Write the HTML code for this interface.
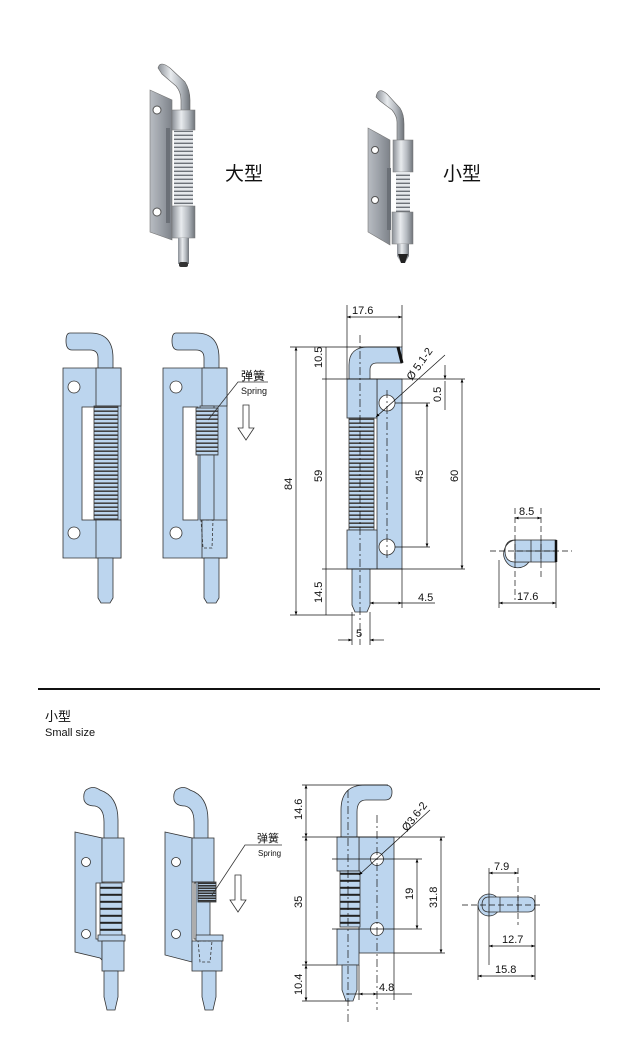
<!DOCTYPE html>
<html><head><meta charset="utf-8"><style>
html,body{margin:0;padding:0;background:#fff;}
svg{display:block;}
text{font-family:"Liberation Sans","Noto Sans CJK SC",sans-serif;fill:#111;}
</style></head><body>
<svg width="640" height="1054" viewBox="0 0 640 1054" xmlns="http://www.w3.org/2000/svg">
<defs>
<linearGradient id="m" x1="0" x2="1"><stop offset="0" stop-color="#8a8f96"/><stop offset=".4" stop-color="#e8ebee"/><stop offset=".7" stop-color="#b5bac0"/><stop offset="1" stop-color="#6f747a"/></linearGradient>
<linearGradient id="pl" x1="0" x2="1"><stop offset="0" stop-color="#b8bcc2"/><stop offset=".5" stop-color="#9ca1a8"/><stop offset="1" stop-color="#7d8289"/></linearGradient>
<pattern id="sp" width="10" height="4" patternUnits="userSpaceOnUse"><rect width="10" height="4" fill="#e6e9ec"/><rect y="2.6" width="10" height="1.4" fill="#6d7278"/></pattern>
<pattern id="bs" width="10" height="4" patternUnits="userSpaceOnUse"><rect width="10" height="4" fill="#bcd5ee"/><rect y="2.4" width="10" height="1.6" fill="#444"/></pattern>
<pattern id="bs2" width="10" height="7" patternUnits="userSpaceOnUse"><rect width="10" height="7" fill="#bcd5ee"/><rect y="4.8" width="10" height="2" fill="#222"/></pattern>
<pattern id="bs3" width="10" height="2.5" patternUnits="userSpaceOnUse"><rect width="10" height="2.5" fill="#333"/><rect y="1.6" width="10" height=".9" fill="#bcd5ee"/></pattern>
<marker id="a" viewBox="0 0 10 10" refX="10" refY="5" markerWidth="7" markerHeight="5" orient="auto-start-reverse"><path d="M0,1 L10,5 L0,9z" fill="#000"/></marker>
</defs>

<!-- ===== Top photos ===== -->
<g>
<path d="M150,90 L172,100 L172,240 L150,232z" fill="url(#pl)" stroke="#777" stroke-width=".6"/>
<rect x="166" y="128" width="4" height="95" fill="#6b7077"/>
<circle cx="157" cy="110" r="4" fill="#fff" stroke="#555"/><circle cx="157" cy="212" r="4" fill="#fff" stroke="#555"/>
<path d="M158,68 Q160,60 170,68 L185,82 Q190,90 190,100 L190,115 L181,115 L181,100 Q181,92 176,86 L162,74z" fill="url(#m)" stroke="#666" stroke-width=".6"/>
<rect x="172" y="110" width="23" height="20" fill="url(#m)" stroke="#777" stroke-width=".5"/>
<rect x="174" y="130" width="19" height="76" fill="url(#sp)"/>
<rect x="172" y="206" width="23" height="32" fill="url(#m)" stroke="#777" stroke-width=".5"/>
<rect x="178" y="238" width="11" height="26" fill="url(#m)"/>
<rect x="179" y="262" width="9" height="5" rx="2" fill="#333"/>
<text x="225" y="180" font-size="19">大型</text>
</g>
<g>
<path d="M368,128 L390,140 L390,245 L368,232z" fill="url(#pl)" stroke="#777" stroke-width=".6"/>
<rect x="387" y="168" width="4" height="62" fill="#6b7077"/>
<circle cx="375" cy="150" r="3.5" fill="#fff" stroke="#555"/><circle cx="375" cy="200" r="3.5" fill="#fff" stroke="#555"/>
<path d="M376,97 Q378,86 387,94 L400,108 Q404,114 404,124 L404,144 L397,144 L397,122 Q397,116 392,110 L380,101z" fill="url(#m)" stroke="#666" stroke-width=".6"/>
<rect x="393" y="140" width="20" height="32" fill="url(#m)" stroke="#777" stroke-width=".5"/>
<rect x="396" y="172" width="14" height="40" fill="url(#sp)"/>
<rect x="392" y="212" width="21" height="32" fill="url(#m)" stroke="#777" stroke-width=".5"/>
<path d="M397,244 L409,244 L409,256 L405,263 L401,263 L397,256z" fill="url(#m)"/>
<path d="M398,254 L408,254 L405,263 L401,263z" fill="#222"/>
<text x="443" y="180" font-size="19">小型</text>
</g>

<!-- ===== Large line drawings ===== -->
<g stroke="#333" stroke-width=".8" fill="#bcd5ee">
<!-- hinge 1 -->
<path d="M70,333 L90,333 Q113,333 113,358 L113,370 L98,370 L98,358 Q98,350 90,350 L72,350 Q66,350 66,341 Q66,333 70,333z"/>
<path d="M63,368 L121,368 L121,558 L63,558z"/>
<rect x="82" y="407" width="15" height="113" fill="#fff"/>
<rect x="96" y="368" width="25" height="38"/>
<rect x="94" y="406" width="24" height="114" fill="url(#bs)"/>
<rect x="96" y="520" width="25" height="38"/>
<path d="M98,558 L113,558 L113,598 L110,603 L101,603 L98,598z"/>
<circle cx="74" cy="387" r="6" fill="#fff"/><circle cx="74" cy="533" r="6" fill="#fff"/>
<!-- hinge 2 -->
<path d="M176,333 L196,333 Q219,333 219,358 L219,370 L204,370 L204,358 Q204,350 196,350 L178,350 Q172,350 172,341 Q172,333 176,333z"/>
<path d="M163,368 L227,368 L227,558 L163,558z"/>
<rect x="183" y="407" width="15" height="113" fill="#fff"/>
<rect x="202" y="368" width="25" height="38"/>
<rect x="200" y="406" width="14" height="114"/>
<rect x="196" y="408" width="22" height="47" fill="url(#bs)"/>
<rect x="202" y="520" width="25" height="38"/>
<path d="M201,520 L213,520 L212,548 L203,548z" fill="none" stroke-dasharray="3,2"/>
<path d="M204,558 L219,558 L219,598 L216,603 L207,603 L204,598z"/>
<circle cx="176" cy="387" r="6" fill="#fff"/><circle cx="176" cy="533" r="6" fill="#fff"/>
<path d="M243,405 L249,405 L249,428 L254,428 L246,440 L238,428 L243,428z" fill="#fff"/>
<path d="M208,420 L238,382 L268,382" fill="none"/>
</g>
<text x="241" y="380" font-size="12">弹簧</text>
<text x="241" y="394" font-size="9">Spring</text>

<!-- ===== Large dimension drawing ===== -->
<g stroke="#333" stroke-width=".8" fill="#bcd5ee">
<path d="M349,379 L349,365 Q349,347 368,347 L402,347 L402,363 L377,363 Q370,363 370,370 L370,379z"/>
<rect x="377" y="379" width="25" height="190"/>
<rect x="347" y="379" width="30" height="39"/>
<rect x="349" y="418" width="25" height="112" fill="url(#bs)"/>
<rect x="347" y="530" width="30" height="39"/>
<path d="M352,569 L370,569 L370,605 L367,612 L355,612 L352,605z"/>
<circle cx="387" cy="403" r="8" fill="#fff"/><circle cx="387" cy="547" r="8" fill="#fff"/>
<line x1="398" y1="347" x2="402" y2="363" stroke-width="3" stroke="#111"/>
</g>
<g stroke="#111" stroke-width=".7" fill="none">
<line x1="360" y1="335" x2="360" y2="645" stroke-dasharray="8,3,2,3"/>
<line x1="387" y1="390" x2="387" y2="560" stroke-dasharray="8,3,2,3"/>
<line x1="347" y1="305" x2="347" y2="379"/><line x1="402" y1="305" x2="402" y2="347"/>
<line x1="347" y1="317" x2="402" y2="317" marker-start="url(#a)" marker-end="url(#a)"/>
<line x1="290" y1="347" x2="400" y2="347"/><line x1="290" y1="615" x2="355" y2="615"/>
<line x1="296" y1="347" x2="296" y2="615" marker-start="url(#a)" marker-end="url(#a)"/>
<line x1="322" y1="379" x2="465" y2="379"/><line x1="322" y1="569" x2="465" y2="569"/>
<line x1="326" y1="347" x2="326" y2="615"/>
<line x1="395" y1="403" x2="430" y2="403"/><line x1="395" y1="547" x2="430" y2="547"/>
<line x1="427" y1="403" x2="427" y2="547" marker-start="url(#a)" marker-end="url(#a)"/>
<line x1="462" y1="379" x2="462" y2="569" marker-start="url(#a)" marker-end="url(#a)"/>
<line x1="445" y1="365" x2="445" y2="379" marker-end="url(#a)"/><line x1="445" y1="410" x2="445" y2="381"/>
<line x1="370" y1="612" x2="370" y2="645"/><line x1="352" y1="612" x2="352" y2="645"/>
<line x1="338" y1="640" x2="352" y2="640" marker-end="url(#a)"/><line x1="384" y1="640" x2="370" y2="640" marker-end="url(#a)"/>
<line x1="370" y1="603" x2="402" y2="603" marker-start="url(#a)" marker-end="url(#a)"/>
<line x1="402" y1="569" x2="402" y2="608"/><line x1="402" y1="603" x2="435" y2="603"/>
<line x1="376" y1="417" x2="445" y2="355" marker-start="url(#a)"/>
</g>
<g font-size="11">
<text x="352" y="314">17.6</text>
<text transform="translate(292,490) rotate(-90)">84</text>
<text transform="translate(322,368) rotate(-90)">10.5</text>
<text transform="translate(322,482) rotate(-90)">59</text>
<text transform="translate(322,603) rotate(-90)">14.5</text>
<text transform="translate(423,482) rotate(-90)">45</text>
<text transform="translate(458,482) rotate(-90)">60</text>
<text transform="translate(441,402) rotate(-90)">0.5</text>
<text x="418" y="601">4.5</text>
<text x="356" y="637">5</text>
<text transform="translate(412,381) rotate(-55)">Ø 5.1-2</text>
</g>
<!-- side view large -->
<g stroke="#333" stroke-width=".8" fill="#bcd5ee">
<path d="M515,540 A14,14 0 1 0 529,562 L515,562 Q505,562 505,551 Q505,540 515,540z"/>
<rect x="515" y="540" width="41" height="22"/>
<line x1="531" y1="540" x2="531" y2="562"/><line x1="541" y1="540" x2="541" y2="562"/>
<line x1="515" y1="551" x2="556" y2="551"/>
<line x1="556" y1="540" x2="556" y2="562" stroke-width="2.5" stroke="#111"/>
</g>
<g stroke="#111" stroke-width=".7" fill="none">
<line x1="490" y1="551" x2="572" y2="551" stroke-dasharray="6,3"/>
<line x1="515" y1="508" x2="515" y2="600" stroke-dasharray="6,3"/>
<line x1="541" y1="508" x2="541" y2="580" stroke-dasharray="6,3"/>
<line x1="515" y1="518" x2="541" y2="518" marker-start="url(#a)" marker-end="url(#a)"/>
<line x1="499" y1="560" x2="499" y2="608"/><line x1="556" y1="562" x2="556" y2="608"/>
<line x1="499" y1="603" x2="556" y2="603" marker-start="url(#a)" marker-end="url(#a)"/>
</g>
<text x="519" y="515" font-size="11">8.5</text>
<text x="517" y="600" font-size="11">17.6</text>

<!-- divider -->
<rect x="38" y="688" width="562" height="2" fill="#111"/>
<text x="45" y="721" font-size="13">小型</text>
<text x="45" y="736" font-size="11">Small size</text>

<!-- ===== Small line drawings ===== -->
<g stroke="#333" stroke-width=".8" fill="#bcd5ee">
<path d="M86,790 Q93,785 100,790 Q118,796 118,820 L118,840 L104,840 L104,822 Q104,808 95,806 Q86,806 84,800 Q83,793 86,790z"/>
<path d="M75,832 L102,838 L102,960 L100,958 L75,952z"/>
<circle cx="86" cy="862" r="4.5" fill="#fff"/><circle cx="86" cy="934" r="4.5" fill="#fff"/>
<rect x="96" y="883" width="8" height="56" fill="#fff"/>
<rect x="102" y="838" width="22" height="44"/>
<rect x="100" y="883" width="22" height="55" fill="url(#bs2)"/>
<rect x="98" y="935" width="27" height="6"/>
<rect x="102" y="941" width="22" height="30"/>
<path d="M104,971 L118,971 L118,997 L115,1010 L107,1010 L104,997z"/>
<!-- hinge 2 -->
<path d="M176,790 Q183,785 190,790 Q208,796 208,820 L208,840 L194,840 L194,822 Q194,808 185,806 Q176,806 174,800 Q173,793 176,790z"/>
<path d="M165,832 L192,838 L192,962 L165,955z"/>
<circle cx="176" cy="862" r="4.5" fill="#fff"/><circle cx="176" cy="934" r="4.5" fill="#fff"/>
<rect x="194" y="883" width="6" height="56" fill="#fff"/>
<rect x="192" y="838" width="22" height="44"/>
<rect x="196" y="882" width="14" height="56"/>
<rect x="198" y="882" width="18" height="20" fill="url(#bs3)"/>
<rect x="196" y="935" width="27" height="6"/>
<rect x="192" y="941" width="30" height="30"/>
<path d="M198,941 L212,941 L210,962 L200,962z" fill="none" stroke-dasharray="3,2"/>
<path d="M202,971 L216,971 L216,997 L213,1010 L205,1010 L202,997z"/>
<path d="M235,875 L241,875 L241,900 L246,900 L238,912 L230,900 L235,900z" fill="#fff"/>
<path d="M212,895 L245,845 L282,845" fill="none"/>
</g>
<text x="257" y="842" font-size="11">弹簧</text>
<text x="258" y="856" font-size="8">Spring</text>

<!-- ===== Small dimension drawing ===== -->
<g stroke="#333" stroke-width=".8" fill="#bcd5ee">
<path d="M341,837 L341,810 Q341,785 365,785 L385,785 Q392,785 392,792 Q392,800 385,800 L366,800 Q357,800 357,812 L357,837z"/>
<rect x="359" y="837" width="35" height="116"/>
<rect x="337" y="837" width="22" height="34"/>
<rect x="340" y="871" width="20" height="56" fill="url(#bs2)"/>
<rect x="337" y="929" width="22" height="36"/>
<path d="M342,965 L357,965 L357,990 L353,1001 L346,1001 L342,990z"/>
<circle cx="377" cy="859" r="6.5" fill="#fff"/><circle cx="377" cy="929" r="6.5" fill="#fff"/>
</g>
<g stroke="#111" stroke-width=".7" fill="none">
<line x1="348" y1="790" x2="348" y2="1025" stroke-dasharray="8,3,2,3"/>
<line x1="377" y1="815" x2="377" y2="1010" stroke-dasharray="8,3,2,3"/>
<line x1="302" y1="785" x2="388" y2="785"/><line x1="302" y1="837" x2="445" y2="837"/>
<line x1="302" y1="965" x2="337" y2="965"/><line x1="302" y1="1001" x2="350" y2="1001"/>
<line x1="306" y1="785" x2="306" y2="837" marker-start="url(#a)" marker-end="url(#a)"/>
<line x1="306" y1="837" x2="306" y2="965" marker-start="url(#a)" marker-end="url(#a)"/>
<line x1="306" y1="965" x2="306" y2="1001" marker-start="url(#a)" marker-end="url(#a)"/>
<line x1="332" y1="859" x2="422" y2="859"/><line x1="332" y1="929" x2="422" y2="929"/>
<line x1="417" y1="859" x2="417" y2="929" marker-start="url(#a)" marker-end="url(#a)"/>
<line x1="394" y1="953" x2="445" y2="953"/>
<line x1="441" y1="837" x2="441" y2="953" marker-start="url(#a)" marker-end="url(#a)"/>
<line x1="359" y1="965" x2="359" y2="1000"/><line x1="394" y1="953" x2="394" y2="1000"/>
<line x1="359" y1="994" x2="377" y2="994" marker-start="url(#a)" marker-end="url(#a)"/>
<line x1="377" y1="994" x2="412" y2="994"/><line x1="346" y1="994" x2="359" y2="994"/>
<line x1="359" y1="875" x2="430" y2="810" marker-start="url(#a)"/>
</g>
<g font-size="11">
<text transform="translate(302,820) rotate(-90)">14.6</text>
<text transform="translate(302,908) rotate(-90)">35</text>
<text transform="translate(302,995) rotate(-90)">10.4</text>
<text transform="translate(413,900) rotate(-90)">19</text>
<text transform="translate(437,908) rotate(-90)">31.8</text>
<text x="379" y="991">4.8</text>
<text transform="translate(407,832) rotate(-52)">Ø3.6-2</text>
</g>
<!-- side small -->
<g stroke="#333" stroke-width=".8" fill="#bcd5ee">
<circle cx="489" cy="905" r="11" fill="#bcd5ee"/>
<path d="M489,897 L528,897 Q535,897 535,905 Q535,912 528,912 L489,912 Q482,912 482,905 Q482,897 489,897z"/>
<line x1="500" y1="897" x2="500" y2="912"/><line x1="518" y1="897" x2="518" y2="912"/>
</g>
<g stroke="#111" stroke-width=".7" fill="none">
<line x1="462" y1="905" x2="540" y2="905" stroke-dasharray="6,3"/>
<line x1="489" y1="868" x2="489" y2="965"/><line x1="518" y1="868" x2="518" y2="925" stroke-dasharray="6,3"/>
<line x1="535" y1="895" x2="535" y2="980"/><line x1="478" y1="905" x2="478" y2="980"/>
<line x1="489" y1="873" x2="518" y2="873" marker-start="url(#a)" marker-end="url(#a)"/>
<line x1="489" y1="946" x2="535" y2="946" marker-start="url(#a)" marker-end="url(#a)"/>
<line x1="478" y1="976" x2="535" y2="976" marker-start="url(#a)" marker-end="url(#a)"/>
</g>
<g font-size="11">
<text x="494" y="870">7.9</text>
<text x="502" y="943">12.7</text>
<text x="495" y="973">15.8</text>
</g>
</svg>
</body></html>
